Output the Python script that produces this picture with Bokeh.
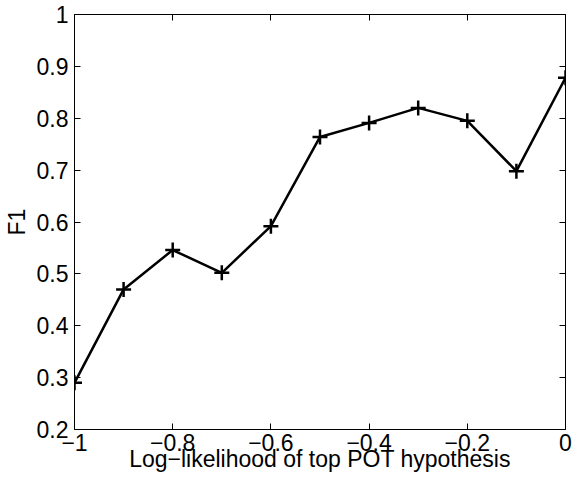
from bokeh.plotting import figure
from bokeh.models import Range1d, LinearAxis, FixedTicker
from bokeh.embed import file_html
from bokeh.resources import INLINE

# Data
x_vals = [-1.0, -0.9, -0.8, -0.7, -0.6, -0.5, -0.4, -0.3, -0.2, -0.1, 0.0]
f1_vals = [0.290, 0.470, 0.546, 0.502, 0.592, 0.764, 0.791, 0.820, 0.795, 0.698, 0.878]

x_ticks = [-1.0, -0.8, -0.6, -0.4, -0.2, 0.0]
x_tick_labels = ["\u22121", "\u22120.8", "\u22120.6", "\u22120.4", "\u22120.2", "0"]
y_ticks = [0.2, 0.3, 0.4, 0.5, 0.6, 0.7, 0.8, 0.9, 1.0]
y_tick_labels = ["0.2", "0.3", "0.4", "0.5", "0.6", "0.7", "0.8", "0.9", "1"]

x_label = "Log\u2212likelihood of top POT hypothesis"
y_label = "F1"

FONT = "Liberation Sans"
FS = "23px"

p = figure(width=572, height=474, output_backend="svg", toolbar_location=None,
           x_range=Range1d(-1, 0), y_range=Range1d(0.2, 1),
           min_border_left=60, min_border_right=7, min_border_top=14, min_border_bottom=40,
           x_axis_label=x_label, y_axis_label=y_label)

p.grid.visible = False
p.outline_line_color = "black"
p.outline_line_width = 1
p.background_fill_color = "white"
p.border_fill_color = "white"

def style_axis(ax, ticks, labels, show_labels=True):
    ax.ticker = FixedTicker(ticks=ticks)
    if show_labels:
        ax.major_label_overrides = {t: l for t, l in zip(ticks, labels)}
    else:
        ax.major_label_overrides = {t: "" for t in ticks}
    ax.major_tick_in = 6
    ax.major_tick_out = 0
    ax.minor_tick_in = 0
    ax.minor_tick_out = 0
    ax.axis_line_color = "black"
    ax.major_tick_line_color = "black"
    ax.major_label_text_font = FONT
    ax.major_label_text_font_size = FS
    ax.major_label_text_color = "black"
    ax.axis_label_text_font = FONT
    ax.axis_label_text_font_size = FS
    ax.axis_label_text_font_style = "normal"
    ax.axis_label_text_color = "black"
    if not show_labels:
        ax.major_label_standoff = 0

for ax in p.xaxis:
    style_axis(ax, x_ticks, x_tick_labels)
    ax.major_label_standoff = 4
    ax.axis_label_standoff = -8
for ax in p.yaxis:
    style_axis(ax, y_ticks, y_tick_labels)
    ax.major_label_standoff = 6
    ax.axis_label_standoff = 4

top_ax = LinearAxis()
style_axis(top_ax, x_ticks, x_tick_labels, show_labels=False)
p.add_layout(top_ax, "above")
right_ax = LinearAxis()
style_axis(right_ax, y_ticks, y_tick_labels, show_labels=False)
p.add_layout(right_ax, "right")

p.line(x_vals, f1_vals, line_color="black", line_width=2.5)
p.scatter(x_vals, f1_vals, marker="cross", size=15, line_color="black", line_width=2.5)

open("out.html", "w").write(file_html(p, INLINE))
